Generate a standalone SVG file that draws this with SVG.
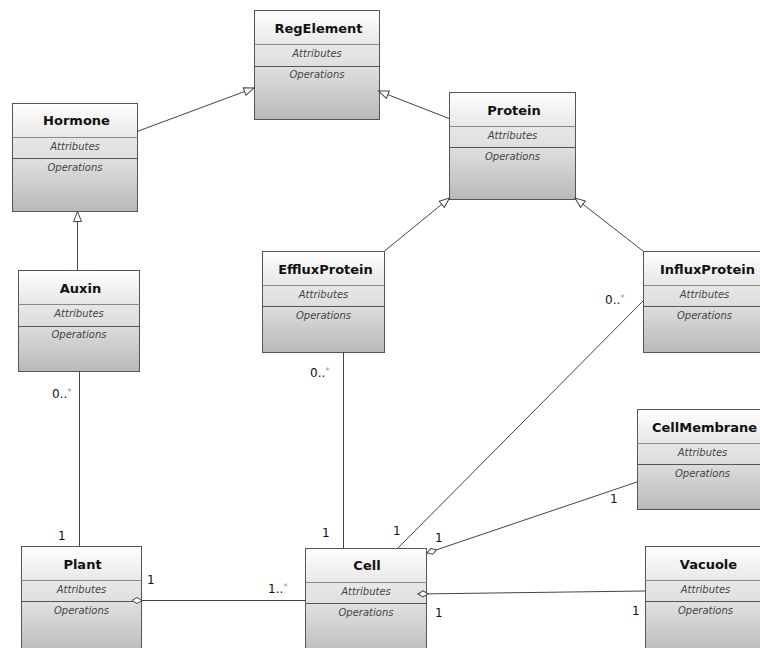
<svg xmlns="http://www.w3.org/2000/svg" width="760" height="648" viewBox="0 0 760 648">
<defs>
<linearGradient id="g" x1="0" y1="0" x2="0" y2="1">
<stop offset="0" stop-color="#ffffff"/>
<stop offset="0.32" stop-color="#e7e7e7"/>
<stop offset="0.52" stop-color="#dfdfdf"/>
<stop offset="1" stop-color="#b9b9b9"/>
</linearGradient>
<marker id="tri" markerUnits="userSpaceOnUse" markerWidth="14" markerHeight="12" refX="11" refY="4.5" orient="auto" viewBox="0 0 14 12">
<path d="M1,0.5 L11,4.5 L1,8.5 Z" fill="#fff" stroke="#444" stroke-width="1"/>
</marker>
<marker id="dia" markerUnits="userSpaceOnUse" markerWidth="14" markerHeight="10" refX="1" refY="4" orient="auto" viewBox="0 0 14 10">
<path d="M1,4 L6,1 L11,4 L6,7 Z" fill="#fff" stroke="#444" stroke-width="1"/>
</marker>
<style>
.box{fill:url(#g);stroke:#555;stroke-width:1}
.hd{stroke:#8a8a8a;stroke-width:1.2}
.ad{stroke:#555;stroke-width:1}
.t{font-family:"DejaVu Sans",sans-serif;font-weight:bold;font-size:13px;fill:#111;text-anchor:middle}
.a{font-family:"DejaVu Sans",sans-serif;font-style:italic;font-size:10px;fill:#444;text-anchor:middle}
.c{stroke:#444;stroke-width:1;fill:none}
.l{font-family:"DejaVu Sans",sans-serif;font-size:12px;fill:#111}
.s{fill:#999;font-size:9px}
</style>
</defs>

<g id="RegElement" transform="translate(254.5,10.5)">
<rect class="box" width="125" height="109"/>
<line class="hd" x1="0" y1="34" x2="125" y2="34"/>
<line class="ad" x1="0" y1="56" x2="125" y2="56"/>
<text class="t" x="64" y="22">RegElement</text>
<text class="a" x="62.5" y="46.5">Attributes</text>
<text class="a" x="62.5" y="67">Operations</text>
</g>

<g id="Hormone" transform="translate(12.5,103.5)">
<rect class="box" width="125" height="108"/>
<line class="hd" x1="0" y1="34" x2="125" y2="34"/>
<line class="ad" x1="0" y1="55" x2="125" y2="55"/>
<text class="t" x="64" y="21">Hormone</text>
<text class="a" x="62.5" y="46">Attributes</text>
<text class="a" x="62.5" y="67">Operations</text>
</g>

<g id="Protein" transform="translate(449.5,92.5)">
<rect class="box" width="126" height="107"/>
<line class="hd" x1="0" y1="34" x2="126" y2="34"/>
<line class="ad" x1="0" y1="55" x2="126" y2="55"/>
<text class="t" x="64.5" y="22">Protein</text>
<text class="a" x="63" y="46">Attributes</text>
<text class="a" x="63" y="67">Operations</text>
</g>

<g id="Auxin" transform="translate(18.5,270.5)">
<rect class="box" width="121" height="101"/>
<line class="hd" x1="0" y1="34" x2="121" y2="34"/>
<line class="ad" x1="0" y1="56" x2="121" y2="56"/>
<text class="t" x="62" y="22">Auxin</text>
<text class="a" x="60.5" y="46.5">Attributes</text>
<text class="a" x="60.5" y="67">Operations</text>
</g>

<g id="EffluxProtein" transform="translate(262.5,251.5)">
<rect class="box" width="122" height="101"/>
<line class="hd" x1="0" y1="34" x2="122" y2="34"/>
<line class="ad" x1="0" y1="55" x2="122" y2="55"/>
<text class="t" x="63" y="22">EffluxProtein</text>
<text class="a" x="61" y="46">Attributes</text>
<text class="a" x="61" y="67">Operations</text>
</g>

<g id="InfluxProtein" transform="translate(643.5,251.5)">
<rect class="box" width="124" height="101"/>
<line class="hd" x1="0" y1="34" x2="124" y2="34"/>
<line class="ad" x1="0" y1="55" x2="124" y2="55"/>
<text class="t" x="64" y="22">InfluxProtein</text>
<text class="a" x="61" y="46">Attributes</text>
<text class="a" x="61" y="67">Operations</text>
</g>

<g id="CellMembrane" transform="translate(637.5,409.5)">
<rect class="box" width="131" height="100"/>
<line class="hd" x1="0" y1="34" x2="131" y2="34"/>
<line class="ad" x1="0" y1="55" x2="131" y2="55"/>
<text class="t" x="67" y="22">CellMembrane</text>
<text class="a" x="65" y="46">Attributes</text>
<text class="a" x="65" y="67">Operations</text>
</g>

<g id="Plant" transform="translate(21.5,546.5)">
<rect class="box" width="120" height="110"/>
<line class="hd" x1="0" y1="34" x2="120" y2="34"/>
<line class="ad" x1="0" y1="55" x2="120" y2="55"/>
<text class="t" x="61" y="22">Plant</text>
<text class="a" x="60" y="46">Attributes</text>
<text class="a" x="60" y="67">Operations</text>
</g>

<g id="Cell" transform="translate(305.5,548.5)">
<rect class="box" width="121" height="110"/>
<line class="hd" x1="0" y1="34" x2="121" y2="34"/>
<line class="ad" x1="0" y1="55" x2="121" y2="55"/>
<text class="t" x="61.5" y="21">Cell</text>
<text class="a" x="60.5" y="46">Attributes</text>
<text class="a" x="60.5" y="67">Operations</text>
</g>

<g id="Vacuole" transform="translate(645.5,546.5)">
<rect class="box" width="122" height="110"/>
<line class="hd" x1="0" y1="34" x2="122" y2="34"/>
<line class="ad" x1="0" y1="55" x2="122" y2="55"/>
<text class="t" x="63" y="22">Vacuole</text>
<text class="a" x="60" y="46">Attributes</text>
<text class="a" x="60" y="67">Operations</text>
</g>

<g id="connectors">
<line class="c" x1="137" y1="131.5" x2="254" y2="88" marker-end="url(#tri)"/>
<line class="c" x1="449" y1="118.5" x2="378.5" y2="91" marker-end="url(#tri)"/>
<line class="c" x1="77.5" y1="270" x2="77.5" y2="211.5" marker-end="url(#tri)"/>
<line class="c" x1="384.5" y1="251" x2="449.5" y2="198" marker-end="url(#tri)"/>
<line class="c" x1="643" y1="251" x2="575" y2="198" marker-end="url(#tri)"/>
<line class="c" x1="79.5" y1="371" x2="79.5" y2="546"/>
<line class="c" x1="132" y1="600.5" x2="305" y2="600.5" marker-start="url(#dia)"/>
<line class="c" x1="343.5" y1="352" x2="343.5" y2="548"/>
<line class="c" x1="643" y1="301" x2="398" y2="548"/>
<line class="c" x1="427" y1="553" x2="637" y2="482" marker-start="url(#dia)"/>
<line class="c" x1="418" y1="594" x2="645" y2="591" marker-start="url(#dia)"/>
<text class="l" x="52" y="398">0..<tspan class="s" dy="-3">*</tspan></text>
<text class="l" x="58" y="540">1</text>
<text class="l" x="147" y="584">1</text>
<text class="l" x="268" y="593">1..<tspan class="s" dy="-3">*</tspan></text>
<text class="l" x="310" y="377">0..<tspan class="s" dy="-3">*</tspan></text>
<text class="l" x="322" y="537">1</text>
<text class="l" x="605" y="304">0..<tspan class="s" dy="-3">*</tspan></text>
<text class="l" x="393" y="535">1</text>
<text class="l" x="435" y="542">1</text>
<text class="l" x="610" y="503">1</text>
<text class="l" x="435" y="617">1</text>
<text class="l" x="632" y="615">1</text>
</g>
</svg>
